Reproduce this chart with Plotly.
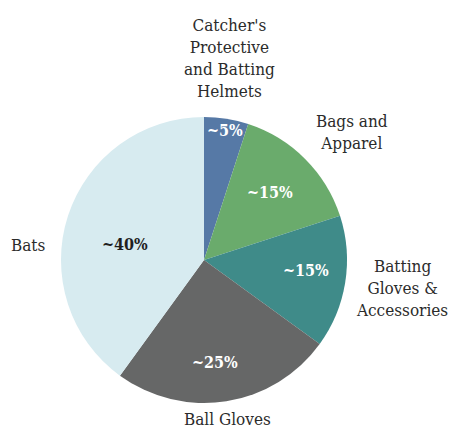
import math
import plotly.graph_objects as go

# Share of equipment sales by category (clockwise from 12 o'clock)
categories = [
    "Catcher's<br>Protective<br>and Batting<br>Helmets",
    "Bags and<br>Apparel",
    "Batting<br>Gloves &<br>Accessories",
    "Ball Gloves",
    "Bats",
]
shares = [5, 15, 15, 25, 40]
colors = ["#5679a6", "#6aab6c", "#3f8b89", "#666767", "#d7ebf0"]
value_colors = ["white", "white", "white", "white", "#1f1f1f"]

W, H = 449, 430
cx, cy, R = 204, 260, 143  # pie centre and radius in pixels

fig = go.Figure(
    go.Pie(
        labels=categories,
        values=shares,
        sort=False,
        direction="clockwise",
        rotation=0,
        marker=dict(colors=colors, line=dict(width=0)),
        textinfo="none",
        hoverinfo="label+percent",
        showlegend=False,
        domain=dict(x=[(cx - R) / W, (cx + R) / W],
                    y=[(H - cy - R) / H, (H - cy + R) / H]),
    )
)

serif = "DejaVu Serif Condensed, DejaVu Serif"

# Value labels placed along each slice's mid-angle
inner_r = [0.92, 0.66, 0.72, 0.72, 0.56]
angle_shift = [0, -1, -3, 3, -7]
total = sum(shares)
cum = 0
annotations = []
for i, v in enumerate(shares):
    mid = (cum + v / 2) / total * 360 + angle_shift[i]
    cum += v
    a = math.radians(mid)
    px = cx + inner_r[i] * R * math.sin(a)
    py = cy - inner_r[i] * R * math.cos(a)
    annotations.append(dict(
        x=px / W, y=1 - py / H, xref="paper", yref="paper",
        text=f"<b>~{v}%</b>", showarrow=False,
        font=dict(family=serif, size=16, color=value_colors[i]),
        xanchor="center", yanchor="middle",
    ))

# Category labels around the pie
outer_pos = [(229, 58), (352, 132), (402, 288), (227, 419), (28, 245)]
for (px, py), lab in zip(outer_pos, categories):
    annotations.append(dict(
        x=px / W, y=1 - py / H, xref="paper", yref="paper",
        text=lab, showarrow=False, align="center",
        font=dict(family=serif, size=17, color="#2b2b2b"),
        xanchor="center", yanchor="middle",
    ))

fig.update_layout(
    width=W, height=H,
    margin=dict(l=0, r=0, t=0, b=0),
    paper_bgcolor="white",
    plot_bgcolor="white",
    font=dict(family=serif),
    annotations=annotations,
)

fig.write_html("out.html")
